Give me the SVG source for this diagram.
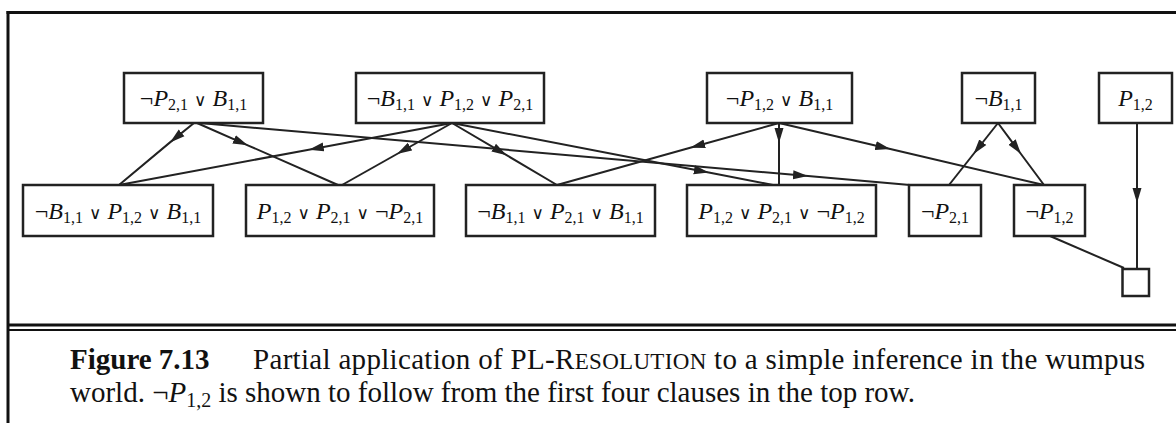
<svg xmlns="http://www.w3.org/2000/svg" width="1176" height="423" viewBox="0 0 1176 423">
  <style>
    .frame { stroke: #111; fill: none; }
    .box { fill: #fff; stroke: #222; stroke-width: 2.5; }
    .edge { fill: none; stroke: #222; stroke-width: 2; }
    .lbl { font-family: "Liberation Serif", "Times New Roman", serif; font-size: 24px; fill: #111; text-anchor: middle; }
    .it { font-style: italic; }
    .sub { font-size: 16px; font-style: normal; }
    .or { font-family: "DejaVu Sans", sans-serif; font-size: 17px; }
    .cap { font-family: "Liberation Serif", "Times New Roman", serif; font-size: 29px; fill: #111; }
    .sc { font-size: 23px; }
  </style>
  <defs>
    <marker id="arrow" markerUnits="userSpaceOnUse" markerWidth="16" markerHeight="10" refX="15" refY="5" orient="auto" viewBox="0 0 16 10">
      <path d="M0,0.5 L15,5 L0,9.5 Z" fill="#222"/>
    </marker>
  </defs>

  <!-- outer frame and caption rule -->
  <g id="frame" class="frame">
    <line x1="6.5" y1="12.5" x2="1176" y2="12.5" stroke-width="3"/>
    <line x1="8" y1="11" x2="8" y2="423" stroke-width="3"/>
    <line x1="8" y1="325" x2="1176" y2="325" stroke-width="3"/>
    <line x1="8" y1="330" x2="1176" y2="330" stroke-width="2"/>
  </g>

  <!-- resolution steps: each edge has its arrowhead at the middle vertex -->
  <g id="connectors" class="edge">
    <path d="M194,123 L170,142.4 L119,185" marker-mid="url(#arrow)"/>
    <path d="M197,123 L247.8,145.3 L338,185" marker-mid="url(#arrow)"/>
    <path d="M200,123 L808,176.1 L910,185" marker-mid="url(#arrow)"/>
    <path d="M452,123 L308.8,149.7 L119,185" marker-mid="url(#arrow)"/>
    <path d="M452,123 L397,154 L342,185" marker-mid="url(#arrow)"/>
    <path d="M452,123 L506.6,155.2 L557,185" marker-mid="url(#arrow)"/>
    <path d="M452,123 L708.8,172.6 L773,185" marker-mid="url(#arrow)"/>
    <path d="M779,123 L690.2,147.8 L557,185" marker-mid="url(#arrow)"/>
    <path d="M779,123 L779,143 L779,185" marker-mid="url(#arrow)"/>
    <path d="M779,123 L890.3,149 L1044,185" marker-mid="url(#arrow)"/>
    <path d="M998,123 L973.5,154 L949,185" marker-mid="url(#arrow)"/>
    <path d="M998,123 L1021,154 L1044,185" marker-mid="url(#arrow)"/>
    <path d="M1137,123 L1137,203 L1137,269" marker-mid="url(#arrow)"/>
    <path d="M1050,236 L1124,268"/>
  </g>

  <!-- top row: given clauses -->
  <g id="n-a">
    <rect class="box" x="124" y="73" width="139" height="50"/>
    <text class="lbl" x="193.5" y="106">¬<tspan class="it">P</tspan><tspan class="sub" dy="4">2,1</tspan><tspan dy="-4"> <tspan class="or">∨</tspan> </tspan><tspan class="it">B</tspan><tspan class="sub" dy="4">1,1</tspan></text>
  </g>
  <g id="n-b">
    <rect class="box" x="356" y="73" width="188" height="50"/>
    <text class="lbl" x="450" y="106">¬<tspan class="it">B</tspan><tspan class="sub" dy="4">1,1</tspan><tspan dy="-4"> <tspan class="or">∨</tspan> </tspan><tspan class="it">P</tspan><tspan class="sub" dy="4">1,2</tspan><tspan dy="-4"> <tspan class="or">∨</tspan> </tspan><tspan class="it">P</tspan><tspan class="sub" dy="4">2,1</tspan></text>
  </g>
  <g id="n-c">
    <rect class="box" x="707" y="73" width="145" height="50"/>
    <text class="lbl" x="779.5" y="106">¬<tspan class="it">P</tspan><tspan class="sub" dy="4">1,2</tspan><tspan dy="-4"> <tspan class="or">∨</tspan> </tspan><tspan class="it">B</tspan><tspan class="sub" dy="4">1,1</tspan></text>
  </g>
  <g id="n-d">
    <rect class="box" x="962" y="73" width="73" height="50"/>
    <text class="lbl" x="998.5" y="106">¬<tspan class="it">B</tspan><tspan class="sub" dy="4">1,1</tspan></text>
  </g>
  <g id="n-e">
    <rect class="box" x="1099" y="73" width="73" height="50"/>
    <text class="lbl" x="1135.5" y="106"><tspan class="it">P</tspan><tspan class="sub" dy="4">1,2</tspan></text>
  </g>

  <!-- bottom row: resolvents -->
  <g id="n-f">
    <rect class="box" x="23" y="185" width="190" height="51"/>
    <text class="lbl" x="118" y="219">¬<tspan class="it">B</tspan><tspan class="sub" dy="4">1,1</tspan><tspan dy="-4"> <tspan class="or">∨</tspan> </tspan><tspan class="it">P</tspan><tspan class="sub" dy="4">1,2</tspan><tspan dy="-4"> <tspan class="or">∨</tspan> </tspan><tspan class="it">B</tspan><tspan class="sub" dy="4">1,1</tspan></text>
  </g>
  <g id="n-g">
    <rect class="box" x="246" y="185" width="188" height="51"/>
    <text class="lbl" x="340" y="219"><tspan class="it">P</tspan><tspan class="sub" dy="4">1,2</tspan><tspan dy="-4"> <tspan class="or">∨</tspan> </tspan><tspan class="it">P</tspan><tspan class="sub" dy="4">2,1</tspan><tspan dy="-4"> <tspan class="or">∨</tspan> ¬</tspan><tspan class="it">P</tspan><tspan class="sub" dy="4">2,1</tspan></text>
  </g>
  <g id="n-h">
    <rect class="box" x="466" y="185" width="189" height="51"/>
    <text class="lbl" x="560.5" y="219">¬<tspan class="it">B</tspan><tspan class="sub" dy="4">1,1</tspan><tspan dy="-4"> <tspan class="or">∨</tspan> </tspan><tspan class="it">P</tspan><tspan class="sub" dy="4">2,1</tspan><tspan dy="-4"> <tspan class="or">∨</tspan> </tspan><tspan class="it">B</tspan><tspan class="sub" dy="4">1,1</tspan></text>
  </g>
  <g id="n-i">
    <rect class="box" x="687" y="185" width="189" height="51"/>
    <text class="lbl" x="781.5" y="219"><tspan class="it">P</tspan><tspan class="sub" dy="4">1,2</tspan><tspan dy="-4"> <tspan class="or">∨</tspan> </tspan><tspan class="it">P</tspan><tspan class="sub" dy="4">2,1</tspan><tspan dy="-4"> <tspan class="or">∨</tspan> ¬</tspan><tspan class="it">P</tspan><tspan class="sub" dy="4">1,2</tspan></text>
  </g>
  <g id="n-j">
    <rect class="box" x="909" y="185" width="72" height="51"/>
    <text class="lbl" x="945" y="219">¬<tspan class="it">P</tspan><tspan class="sub" dy="4">2,1</tspan></text>
  </g>
  <g id="n-k">
    <rect class="box" x="1014" y="185" width="71" height="51"/>
    <text class="lbl" x="1049.5" y="219">¬<tspan class="it">P</tspan><tspan class="sub" dy="4">1,2</tspan></text>
  </g>
  <g id="n-empty">
    <rect class="box" x="1122.5" y="269" width="26.5" height="27" stroke-width="3"/>
  </g>

  <!-- caption -->
  <g id="caption" class="cap">
    <text x="70" y="369"><tspan font-weight="bold">Figure 7.13</tspan></text>
    <text x="253" y="369" textLength="892" lengthAdjust="spacing">Partial application of PL-R<tspan class="sc">ESOLUTION</tspan> to a simple inference in the wumpus</text>
    <text x="70" y="402">world. ¬<tspan font-style="italic">P</tspan><tspan font-size="20" dy="5">1,2</tspan><tspan dy="-5"> is shown to follow from the first four clauses in the top row.</tspan></text>
  </g>
</svg>
